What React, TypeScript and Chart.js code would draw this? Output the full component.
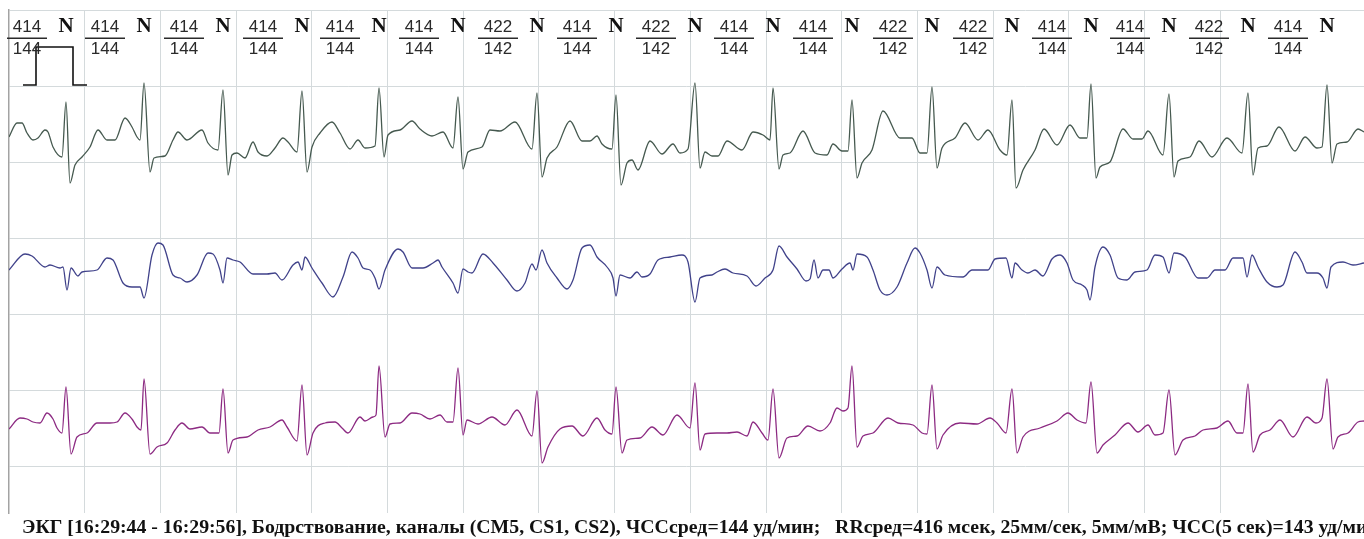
import React, { useEffect, useRef } from "react";
import { Chart, registerables } from "chart.js";

Chart.register(...registerables);

// Sampling: ~189 samples per second (25 mm/s strip), amplitudes in ADC units (38 units = 1 mV)
const FS = 189.25;
const START_SAMPLE = 9;
const END_SAMPLE = 1364;
const GAIN = 38;
const GRID_X_SEC = 0.4;
const GRID_Y_UNITS = 76;

// Channel names and colours
const channelNames = ["CM5", "CS1", "CS2"];
const channelColors = ["#45594f", "#40428a", "#8c2a82"];
// channel isoline (units below the top of the strip)
const channelBase = [-137, -260, -418];

// [sample, amplitude]
const ch1: number[][] = [
  [9,10],[17,24],[22,24],[27,14],[33,7],[38,9],[45,17],[48,15],[53,0],[62,-10],[66,45],[70,-36],[75,-18],[82,-10],[90,0],[98,17],[107,7],[115,7],[125,29],[132,20],[137,10],[140,7],
  [144,64],[150,-25],[154,-11],[165,-9],[173,7],[178,15],[187,7],[202,17],[208,4],[218,-3],
  [223,57],[228,-28],[232,-8],[237,-6],[245,-11],[253,5],[258,-5],[267,-9],[275,-1],[283,9],[288,5],[297,-5],
  [302,56],[307,-25],[312,0],[320,14],[332,25],[340,14],[350,-2],[358,7],[365,-1],[375,1],
  [379,59],[384,-10],[388,12],[400,17],[412,26],[420,18],[432,11],[443,15],[453,-1],
  [458,50],[463,-22],[468,-5],[482,0],[490,17],[500,16],[515,25],[532,-2],
  [537,54],[542,-30],[547,-11],[557,0],[570,26],[582,6],[590,6],[597,11],[602,3],[612,-2],
  [616,52],[621,-38],[627,-16],[632,-13],[638,-23],[650,6],[662,-7],[673,3],[680,-6],[688,-2],
  [695,64],[700,-21],[705,-5],[712,-9],[718,-9],[727,6],[742,-3],[753,15],[763,12],[770,7],
  [773,59],[779,-22],[783,-8],[790,-6],[803,16],[815,-6],[827,-8],[833,3],[842,-4],[848,-4],
  [852,47],[857,-31],[862,-16],[872,-3],[883,36],[900,9],[912,9],[920,-6],[927,-6],
  [932,60],[937,-21],[942,-1],[955,9],[965,24],[978,7],[988,17],[1000,-3],[1007,-8],
  [1012,47],[1016,-41],[1023,-23],[1035,-3],[1044,18],[1057,2],[1070,22],[1080,9],[1087,9],
  [1091,63],[1096,-31],[1100,-20],[1110,-15],[1123,18],[1133,8],[1142,8],[1148,16],[1163,-8],
  [1169,53],[1174,-30],[1178,-14],[1190,-10],[1199,6],[1212,-10],[1227,9],[1242,-6],
  [1248,54],[1253,-28],[1258,-1],[1267,1],[1279,20],[1295,-4],[1305,10],[1317,-1],[1322,0],
  [1327,62],[1332,-16],[1337,3],[1347,5],[1358,18],[1364,15],
];

const ch2: number[][] = [
  [9,0],[25,16],[32,14],[45,3],[50,5],[60,2],[63,3],[67,-20],[71,2],[78,-6],[82,-2],[97,0],[107,12],[113,10],[123,-13],[132,-17],[140,-17],
  [144,-28],[152,15],[158,27],[163,25],[173,-5],[180,-8],[187,-12],[197,-5],[208,17],[213,16],[220,0],
  [223,-13],[227,12],[233,10],[240,8],[253,-4],[267,-4],[275,-3],[282,-10],[293,5],[298,8],
  [302,0],[305,13],[312,2],[322,-13],[333,-27],[343,-7],[352,18],[358,12],[363,2],[370,0],[375,-8],
  [379,-19],[385,0],[398,21],[403,18],[412,2],[423,2],[433,7],[438,10],[442,3],[453,-13],
  [458,-23],[463,1],[468,-2],[472,-3],[483,16],[493,7],[507,-10],[517,-21],[525,-13],[532,6],
  [536,0],[542,20],[547,7],[557,-8],[567,-19],[573,-10],[582,22],[590,25],[597,13],[607,3],[613,-8],
  [616,-26],[620,-5],[630,-8],[637,-2],[642,-7],[650,-4],[658,10],[670,13],[682,15],[688,8],
  [695,-32],[700,-8],[712,-5],[717,-2],[725,1],[733,-3],[747,-6],[756,-16],[765,-8],[773,0],
  [779,24],[787,13],[797,1],[806,-11],[810,-9],[814,10],[818,-8],[823,0],[829,0],[833,-8],[842,1],[850,7],
  [853,0],[857,16],[867,13],[873,0],[880,-20],[887,-25],[897,-17],[907,7],[915,22],[920,17],[927,0],
  [932,-18],[937,3],[945,-5],[963,-7],[972,0],[988,0],[995,11],[1006,12],
  [1012,-8],[1015,7],[1022,0],[1028,-3],[1035,0],[1043,-6],[1052,11],[1060,15],[1067,7],[1073,-10],[1082,-15],[1087,-20],
  [1090,-30],[1095,3],[1103,23],[1110,15],[1118,-8],[1127,-10],[1135,-2],[1147,0],[1155,15],[1163,13],
  [1169,-3],[1174,17],[1185,13],[1198,-8],[1207,-8],[1215,0],[1225,0],[1233,12],[1243,12],
  [1247,-7],[1252,15],[1258,3],[1267,-12],[1277,-17],[1283,-15],[1295,18],[1302,8],[1307,-3],[1317,-3],[1323,-8],
  [1327,-18],[1331,3],[1343,8],[1353,5],[1364,7],
];

const ch3: number[][] = [
  [9,-1],[20,10],[27,9],[33,6],[40,5],[47,15],[53,9],[57,0],[62,-5],[66,41],[71,-26],[77,-9],[87,-5],[97,5],[110,5],[117,6],[125,15],[132,9],[137,1],[141,-2],
  [144,49],[150,-26],[157,-19],[167,-15],[175,-2],[182,5],[190,-1],[202,1],[210,-5],[219,-5],
  [223,39],[228,-25],[233,-12],[247,-9],[258,-2],[270,1],[282,8],[287,1],[297,-13],
  [302,43],[307,-27],[313,-5],[325,5],[335,6],[342,0],[348,-5],[360,11],[365,7],[373,11],[376,13],
  [379,62],[385,-9],[390,4],[400,5],[412,15],[420,14],[430,9],[440,13],[447,6],[453,6],
  [458,60],[463,-7],[467,8],[478,4],[492,11],[505,3],[517,18],[532,-8],
  [537,37],[542,-35],[548,-19],[560,-1],[572,2],[583,-8],[597,10],[605,-2],[612,-6],
  [616,41],[622,-25],[627,-12],[640,-10],[652,1],[663,-7],[677,13],[690,0],
  [695,45],[700,-22],[705,-6],[717,-5],[727,-5],[737,-4],[747,-8],[753,6],[762,-5],[768,-12],
  [773,39],[779,-30],[787,-10],[797,-8],[808,2],[820,-3],[830,5],[837,20],[843,17],[848,20],
  [852,62],[857,-19],[863,-8],[873,-5],[888,10],[898,5],[913,3],[922,-5],[927,-6],
  [932,43],[937,-21],[943,-7],[960,5],[977,4],[990,10],[997,5],[1006,-5],
  [1012,39],[1017,-25],[1023,-9],[1040,0],[1057,7],[1068,15],[1077,8],[1086,5],
  [1091,46],[1097,-25],[1103,-17],[1115,-7],[1128,5],[1138,-4],[1148,3],[1155,-7],[1163,-5],
  [1169,38],[1175,-27],[1183,-12],[1195,-8],[1203,-2],[1217,0],[1228,7],[1237,-5],[1243,-5],
  [1248,44],[1253,-24],[1260,-7],[1270,-2],[1280,8],[1293,-9],[1307,11],[1316,5],[1322,10],
  [1327,49],[1333,-21],[1338,-9],[1348,-5],[1358,6],[1364,7],
];

// Calibration pulse (1 mV), sample positions and mV levels
const calSamples = [23, 36, 36, 73, 73, 87];
const calLevels = [0, 0, 1, 1, 0, 0];
const calBase = -75;

// Beat annotations
const rPeakSamples = [66, 144, 223, 302, 379, 458, 537, 616, 695, 773, 852, 932, 1012, 1091, 1169, 1248, 1327];
const rrLabels = ["414","414","414","414","414","414","422","414","422","414","414","422","422","414","414","422","414"];
const hrLabels = ["144","144","144","144","144","144","142","144","142","144","144","142","142","144","144","142","144"];
const beatTypes = ["N","N","N","N","N","N","N","N","N","N","N","N","N","N","N","N","N"];

const caption =
  "ЭКГ [16:29:44 - 16:29:56], Бодрствование, каналы (CM5, CS1, CS2), ЧССсред=144 уд/мин;   RRсред=416 мсек, 25мм/сек, 5мм/мВ; ЧСС(5 сек)=143 уд/мин";

const GRID_COLOR = "#d4dadc";
const BORDER_COLOR = "#a3a3a3";

const toSec = (s: number) => (s - START_SAMPLE) / FS;

export default function App() {
  const ref = useRef<HTMLCanvasElement | null>(null);

  useEffect(() => {
    if (!ref.current) return;
    const channels = [ch1, ch2, ch3];
    const datasets: any[] = channels.map((pts, i) => ({
      label: channelNames[i],
      data: pts.map(([s, v]) => ({ x: toSec(s), y: v + channelBase[i] })),
      borderColor: channelColors[i],
      borderWidth: 1.3,
      pointRadius: 0,
      cubicInterpolationMode: "monotone",
      fill: false,
    }));
    datasets.push({
      label: "cal",
      data: calSamples.map((s, i) => ({ x: toSec(s), y: calBase + calLevels[i] * GAIN })),
      borderColor: "#111",
      borderWidth: 1.6,
      pointRadius: 0,
      tension: 0,
      fill: false,
    });

    const annot = {
      id: "annot",
      afterDraw(chart: any) {
        const { ctx } = chart;
        const xs = chart.scales.x;
        ctx.save();
        rPeakSamples.forEach((s, i) => {
          const x = xs.getPixelForValue(toSec(s));
          ctx.fillStyle = "#111";
          ctx.textAlign = "center";
          ctx.textBaseline = "middle";
          ctx.font = 'bold 21px "Liberation Serif"';
          ctx.fillText(beatTypes[i], x, 27);
          const fx = x - 39;
          ctx.fillStyle = "#2a2a2a";
          ctx.font = '17px "Liberation Sans"';
          ctx.fillText(rrLabels[i], fx, 27);
          ctx.fillText(hrLabels[i], fx, 49);
          ctx.fillRect(fx - 20, 37.5, 40, 1.5);
        });
        ctx.fillStyle = "#111";
        ctx.textAlign = "left";
        ctx.textBaseline = "alphabetic";
        ctx.font = 'bold 19.8px "Liberation Serif"';
        ctx.fillText(caption, 22, 533);
        ctx.restore();
      },
    };

    const isMultiple = (v: number, step: number) => Math.abs(v / step - Math.round(v / step)) < 1e-6;

    const chart = new Chart(ref.current, {
      type: "line",
      data: { datasets },
      options: {
        animation: false,
        responsive: false,
        events: [],
        layout: { padding: { left: 9, top: 10, right: 0, bottom: 26 } },
        plugins: { legend: { display: false }, tooltip: { enabled: false } },
        scales: {
          x: {
            type: "linear",
            min: 0,
            max: toSec(END_SAMPLE),
            ticks: { display: false, stepSize: GRID_X_SEC },
            grid: {
              drawTicks: false,
              color: (c: any) => (c.tick && c.tick.value > 0 && isMultiple(c.tick.value, GRID_X_SEC) ? GRID_COLOR : "rgba(0,0,0,0)"),
              lineWidth: 1,
            },
            border: { display: false },
            afterFit: (s: any) => { s.height = 0; },
          },
          y: {
            type: "linear",
            min: -503,
            max: 0,
            ticks: { display: false, stepSize: GRID_Y_UNITS },
            grid: {
              drawTicks: false,
              color: (c: any) => (c.tick && isMultiple(c.tick.value, GRID_Y_UNITS) ? GRID_COLOR : "rgba(0,0,0,0)"),
              lineWidth: 1,
            },
            border: { display: true, color: BORDER_COLOR, width: 1.5 },
            afterFit: (s: any) => { s.width = 0; },
          },
        },
      },
      plugins: [annot],
    });
    return () => chart.destroy();
  }, []);

  return (
    <div style={{ position: "fixed", left: 0, top: 0, width: 1364, height: 539, background: "#fff" }}>
      <canvas ref={ref} width={1364} height={539} style={{ display: "block" }} />
    </div>
  );
}
